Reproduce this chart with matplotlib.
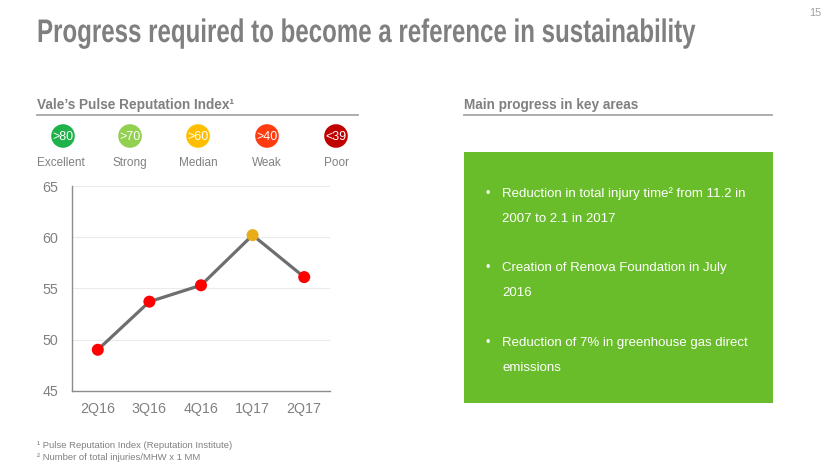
import matplotlib
matplotlib.use("Agg")
import matplotlib.pyplot as plt
from matplotlib import font_manager
from matplotlib.patches import Circle, Rectangle
from matplotlib.patheffects import AbstractPathEffect
from matplotlib.transforms import Affine2D

# ---- data ----
quarters = ["2Q16", "3Q16", "4Q16", "1Q17", "2Q17"]
index_values = [49.0, 53.7, 55.3, 60.2, 56.1]
point_colors = ["#ff0000", "#ff0000", "#ff0000", "#e8ad16", "#ff0000"]
y_ticks = [45, 50, 55, 60, 65]
scale_labels = [">80", ">70", ">60", ">40", "<39"]
scale_names = ["Excellent", "Strong", "Median", "Weak", "Poor"]
scale_colors = ["#1fb24a", "#92d050", "#ffbf00", "#ff3b0f", "#c00000"]
bullets = [
    ["Reduction in total injury time\u00b2 from 11.2 in", "2007 to 2.1 in 2017"],
    ["Creation of Renova Foundation in July", "2016"],
    ["Reduction of 7% in greenhouse gas direct", "emissions"],
]
footnotes = ["\u00b9 Pulse Reputation Index (Reputation Institute)",
             "\u00b2 Number of total injuries/MHW x 1 MM"]
title = "Progress required to become a reference in sustainability"

names = {f.name for f in font_manager.fontManager.ttflist}
base = "Liberation Sans" if "Liberation Sans" in names else "DejaVu Sans"
plt.rcParams["font.family"] = [base, "DejaVu Sans"]


class Reshape(AbstractPathEffect):
    """Draw text glyphs scaled around (x0, y0) in display px (narrow, tall look)."""
    def __init__(self, sx, sy, x0, y0):
        super().__init__()
        self.sx, self.sy, self.x0, self.y0 = sx, sy, x0, y0

    def draw_path(self, renderer, gc, tpath, affine, rgbFace=None):
        aff = affine + (Affine2D().translate(-self.x0, -self.y0)
                        .scale(self.sx, self.sy).translate(self.x0, self.y0))
        renderer.draw_path(gc, tpath, aff, rgbFace)


W, H = 830, 467
fig = plt.figure(figsize=(W / 100, H / 100), dpi=100)
fig.patch.set_facecolor("white")

# overlay in pixel coords
ov = fig.add_axes([0, 0, 1, 1])
ov.set_xlim(0, W)
ov.set_ylim(H, 0)
ov.axis("off")

gray = "#808080"
title_fs = 20.0
t = ov.text(37, 42, title, fontsize=title_fs, fontweight="bold", color="#7f7f7f",
            va="baseline", ha="left")
fig.canvas.draw()
tw = t.get_window_extent().width
t.set_path_effects([Reshape((695 - 37) / tw, 23.5 / title_fs, 37, H - 42)])

ov.text(821, 13, "15", fontsize=7.8, color="#a0a0a0", ha="right", va="center")

# section headers
ov.text(37, 109, "Vale\u2019s Pulse Reputation Index\u00b9", fontsize=9.8, fontweight="bold",
        color=gray, va="baseline")
ov.plot([37, 358], [115, 115], color="#a6a6a6", lw=1.3)
ov.text(464, 109, "Main progress in key areas", fontsize=9.8, fontweight="bold",
        color=gray, va="baseline")
ov.plot([464, 772], [115, 115], color="#a6a6a6", lw=1.3)

# scale legend
cx = [63, 130, 198, 267, 336]
for x, lab, name, c in zip(cx, scale_labels, scale_names, scale_colors):
    ov.add_patch(Circle((x, 136), 11.8, color=c, lw=0))
    ov.text(x, 136.5, lab, color="white", fontsize=9, ha="center", va="center")
    ov.text(x - 2 if name == "Excellent" else x, 163, name, color=gray, fontsize=8.5,
            ha="center", va="center")

# green box
ov.add_patch(Rectangle((464, 152), 309, 251, color="#6abd2a", lw=0))
y0 = [194, 268, 343]
for yy, lines in zip(y0, bullets):
    ov.text(488, yy, "\u2022", color="white", fontsize=9, ha="center", va="center")
    for i, ln in enumerate(lines):
        ov.text(502, yy + i * 25, ln, color="white", fontsize=9.5, ha="left", va="center")

# footnotes
for i, fn in enumerate(footnotes):
    ov.text(37, 446 + i * 11, fn, color=gray, fontsize=6.8, va="center")

# chart
ax = fig.add_axes([72 / W, 1 - 390.7 / H, (330 - 72) / W, (390.7 - 186) / H])
ax.set_facecolor("none")
xs = list(range(len(quarters)))
ax.plot(xs, index_values, color="#6e6e6e", lw=2.3, zorder=2)
ax.scatter(xs, index_values, s=75, c=point_colors, zorder=3, linewidths=0)
ax.set_xlim(-0.5, len(quarters) - 0.5)
ax.set_ylim(45, 65)
ax.set_yticks(y_ticks)
ax.set_xticks(xs)
ax.set_xticklabels(quarters)
ax.grid(axis="y", color="#ebebeb", lw=0.8)
ax.set_axisbelow(True)
for s in ["top", "right"]:
    ax.spines[s].set_visible(False)
for s in ["left", "bottom"]:
    ax.spines[s].set_color("#8c8c8c")
    ax.spines[s].set_linewidth(1.0)
ax.tick_params(length=0, colors=gray, labelsize=10.3, pad=8)
ax.tick_params(axis="y", pad=10)

fig.savefig("out.png", dpi=100, facecolor="white")
